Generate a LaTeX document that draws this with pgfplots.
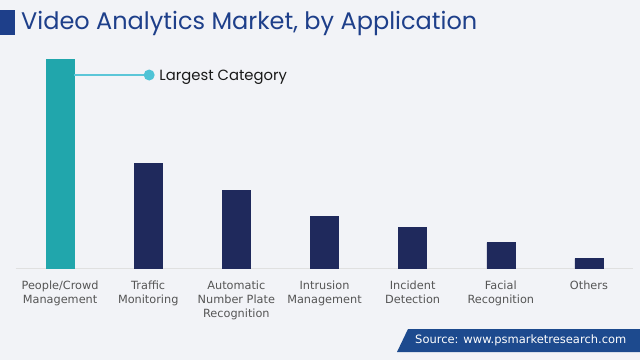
\documentclass[border=0pt]{standalone}
\usepackage{pgfplots}
\pgfplotsset{compat=1.18}
\usepackage{fontspec}
\setmainfont{DejaVu Sans}
\newfontfamily\titlefont{Poppins}
\definecolor{bgc}{HTML}{F2F3F7}
\definecolor{titleblue}{HTML}{1E3F8A}
\definecolor{tealbar}{HTML}{21A6AC}
\definecolor{navybar}{HTML}{1F295C}
\definecolor{annot}{HTML}{4EC3D6}
\definecolor{annotline}{HTML}{5CC6D8}
\definecolor{srcblue}{HTML}{1D4A8E}
\definecolor{ticklab}{HTML}{555555}
\begin{document}
\begin{tikzpicture}
\useasboundingbox (0,0) rectangle (640pt,-360pt);
\fill[bgc] (0,0) rectangle (640pt,-360pt);
% title
\fill[titleblue] (0,-10pt) rectangle (15pt,-35pt);
\node[anchor=west, inner sep=0pt, text=titleblue] at (21pt,-23pt)
  {\titlefont\fontsize{24}{28}\selectfont Video Analytics Market, by Application};
% source box
\fill[srcblue] (408pt,-329pt) -- (640pt,-329pt) -- (640pt,-352pt) -- (397pt,-352pt) -- cycle;
\node[anchor=west, inner sep=0pt, text=white] at (415pt,-340.5pt)
  {\fontsize{11.5}{13}\selectfont Source: www.psmarketresearch.com};
\begin{axis}[
  at={(16pt,-268.5pt)}, anchor=south west,
  scale only axis, width=617pt, height=228.5pt,
  xmin=-0.5, xmax=6.5, ymin=0, ymax=228.5,
  axis x line=bottom, axis y line=none,
  axis line style={-, draw=black!12, line width=0.8pt},
  xtick={0,1,2,3,4,5,6},
  xticklabels={{People/Crowd\\Management},{Traffic\\Monitoring},{Automatic\\Number Plate\\Recognition},{Intrusion\\Management},{Incident\\Detection},{Facial\\Recognition},{Others}},
  xticklabel style={align=center, text=ticklab, font=\fontsize{11.3}{14}\selectfont, anchor=north, yshift=-9pt},
  major tick length=0pt,
  ytick=\empty,
  ybar, bar width=28pt, bar shift=0pt,
  clip=false,
]
\addplot[fill=tealbar, draw=tealbar] coordinates {(0,209.5)};
\addplot[fill=navybar, draw=navybar] coordinates {(1,105) (2,78.5) (3,52) (4,41.5) (5,26) (6,10)};
\path[draw=annotline, line width=1.4pt] (axis cs:0.16,193.5) -- (axis cs:1.011,193.5);
\fill[annot] (axis cs:1.011,193.5) circle (5.5pt);
\node[anchor=west, inner sep=0pt, text=black!90, yshift=-2pt] at (axis cs:1.125,193.5)
  {\titlefont\fontsize{14.8}{17}\selectfont Largest Category};
\end{axis}
\end{tikzpicture}
\end{document}
